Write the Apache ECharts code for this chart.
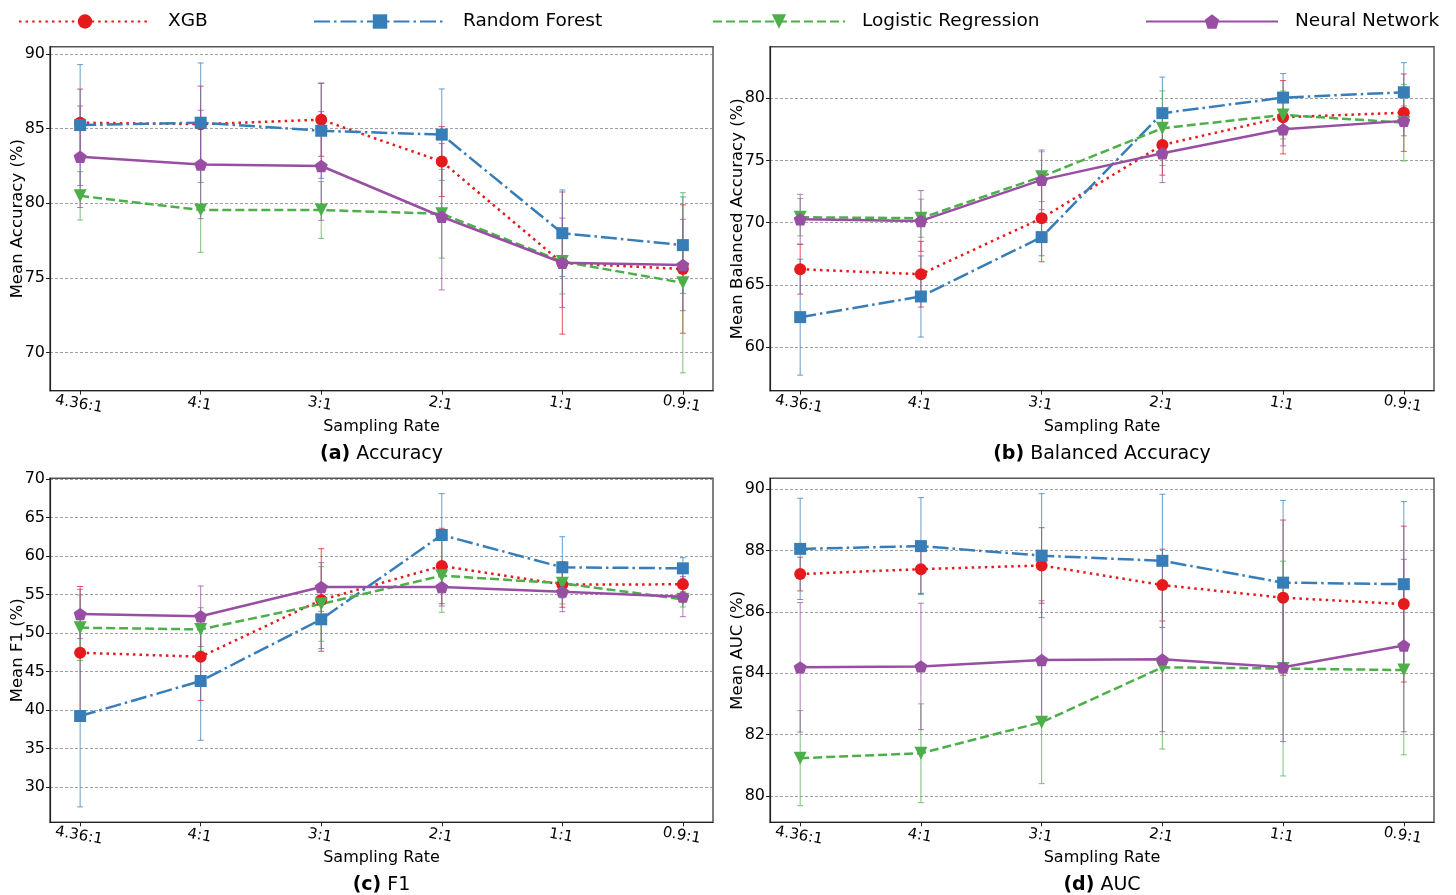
<!DOCTYPE html>
<html><head><meta charset="utf-8">
<script src="https://cdn.jsdelivr.net/npm/echarts@6/dist/echarts.min.js"></script>
<style>html,body{margin:0;padding:0;background:#fff}#c{width:1456px;height:895px}</style>
</head><body><div id="c"></div>
<script>
const categories = ['4.36:1', '4:1', '3:1', '2:1', '1:1', '0.9:1'];
const models = ['XGB', 'Random Forest', 'Logistic Regression', 'Neural Network'];

// (a) Accuracy
const accXGB = [85.4, 85.3, 85.6, 82.8, 76.0, 75.6];
const accXGBErr = [2.25, 2.55, 2.45, 2.34, 4.76, 4.3];
const accRF = [85.24, 85.4, 84.86, 84.6, 78.0, 77.2];
const accRFErr = [4.05, 4.0, 3.18, 3.06, 2.9, 3.23];
const accLR = [80.5, 79.55, 79.55, 79.3, 76.1, 74.68];
const accLRErr = [1.62, 2.83, 1.9, 2.97, 2.17, 6.03];
const accNN = [83.12, 82.6, 82.5, 79.1, 76.02, 75.87];
const accNNErr = [3.4, 3.63, 3.64, 4.9, 2.99, 3.06];

// (b) Balanced Accuracy
const balXGB = [66.26, 65.86, 70.36, 76.25, 78.47, 78.84];
const balXGBErr = [2.0, 2.64, 3.5, 2.43, 2.95, 3.11];
const balRF = [62.41, 64.07, 68.84, 78.8, 80.05, 80.48];
const balRFErr = [4.66, 3.26, 1.5, 2.9, 1.93, 2.38];
const balLR = [70.44, 70.36, 73.7, 77.59, 78.66, 78.04];
const balLRErr = [1.5, 1.53, 2.0, 3.0, 1.93, 3.08];
const balNN = [70.28, 70.14, 73.44, 75.58, 77.51, 78.18];
const balNNErr = [2.0, 2.44, 2.4, 2.36, 1.34, 1.2];

// (c) F1
const f1XGB = [47.44, 46.92, 54.29, 58.7, 56.3, 56.32];
const f1XGBErr = [8.6, 5.7, 6.66, 4.9, 2.96, 1.5];
const f1RF = [39.22, 43.77, 51.78, 62.73, 58.53, 58.4];
const f1RFErr = [11.8, 7.7, 3.8, 5.37, 3.97, 1.38];
const f1LR = [50.69, 50.47, 53.77, 57.45, 56.45, 54.38];
const f1LRErr = [4.25, 2.82, 4.84, 4.76, 2.68, 1.0];
const f1NN = [52.47, 52.17, 55.97, 55.97, 55.37, 54.72];
const f1NNErr = [3.2, 3.93, 3.16, 2.47, 2.6, 2.6];

// (d) AUC
const aucXGB = [87.23, 87.39, 87.51, 86.87, 86.46, 86.25];
const aucXGBErr = [0.55, 0.79, 1.23, 1.17, 2.53, 2.54];
const aucRF = [88.05, 88.14, 87.83, 87.66, 86.95, 86.9];
const aucRFErr = [1.65, 1.58, 2.02, 2.17, 2.68, 2.69];
const aucLR = [81.23, 81.39, 82.4, 84.19, 84.15, 84.1];
const aucLRErr = [1.55, 1.61, 2.0, 2.66, 3.5, 2.76];
const aucNN = [84.19, 84.22, 84.43, 84.45, 84.19, 84.9];
const aucNNErr = [2.11, 2.06, 1.93, 2.36, 2.42, 2.81];

// tick labels
const accTicks = [70, 75, 80, 85, 90];
const balTicks = [60, 65, 70, 75, 80];
const f1Ticks = [30, 35, 40, 45, 50, 55, 60, 65, 70];
const aucTicks = [80, 82, 84, 86, 88, 90];

const panels = [
  {tag: '(a)', title: 'Accuracy', yName: 'Mean Accuracy (%)', ticks: accTicks, step: 5, min: 67.45, max: 90.49,
   vals: [accXGB, accRF, accLR, accNN], errs: [accXGBErr, accRFErr, accLRErr, accNNErr],
   grid: {left: 50, top: 46.7, width: 663, height: 344}},
  {tag: '(b)', title: 'Balanced Accuracy', yName: 'Mean Balanced Accuracy (%)', ticks: balTicks, step: 5, min: 56.5, max: 84.14,
   vals: [balXGB, balRF, balLR, balNN], errs: [balXGBErr, balRFErr, balLRErr, balNNErr],
   grid: {left: 770, top: 46.7, width: 664, height: 344}},
  {tag: '(c)', title: 'F1', yName: 'Mean F1 (%)', ticks: f1Ticks, step: 5, min: 25.42, max: 70.09,
   vals: [f1XGB, f1RF, f1LR, f1NN], errs: [f1XGBErr, f1RFErr, f1LRErr, f1NNErr],
   grid: {left: 50, top: 478.3, width: 663, height: 344}},
  {tag: '(d)', title: 'AUC', yName: 'Mean AUC (%)', ticks: aucTicks, step: 2, min: 79.14, max: 90.35,
   vals: [aucXGB, aucRF, aucLR, aucNN], errs: [aucXGBErr, aucRFErr, aucLRErr, aucNNErr],
   grid: {left: 770, top: 478.3, width: 664, height: 344}}
];

const FONT = 'DejaVu Sans';
const pent = 'path://M0,-1 L0.951,-0.309 L0.588,0.809 L-0.588,0.809 L-0.951,-0.309 Z';
const styles = [
  {color: '#e41a1c', dash: [2.5, 4.1], symbol: 'circle', size: 12, rot: 0},
  {color: '#377eb8', dash: [16, 4, 2.5, 4], symbol: 'rect', size: 12, rot: 0},
  {color: '#4daf4a', dash: [9, 4], symbol: 'triangle', size: 13, rot: 180},
  {color: '#984ea3', dash: 'solid', symbol: pent, size: [13, 12.4], rot: 0}
];

const grids = [], xAxes = [], yAxes = [], series = [], graphics = [];
panels.forEach((p, gi) => {
  grids.push(Object.assign({show: true, borderColor: '#555', borderWidth: 1.5, containLabel: false}, p.grid));
  xAxes.push({
    type: 'value', gridIndex: gi, min: -0.25, max: 5.25, minInterval: 1, maxInterval: 1,
    name: 'Sampling Rate', nameLocation: 'middle', nameGap: 28, nameMoveOverlap: false,
    nameTextStyle: {fontFamily: FONT, fontSize: 16, color: '#000'},
    axisLine: {show: true, onZero: false, lineStyle: {color: '#222', width: 1.2}},
    axisTick: {show: true, customValues: [0, 1, 2, 3, 4, 5], length: 4, lineStyle: {color: '#222'}},
    axisLabel: {customValues: [0, 1, 2, 3, 4, 5], formatter: v => categories[Math.round(v)], rotate: -10,
      align: 'center', verticalAlign: 'top', margin: 6, fontFamily: FONT, fontSize: 15, color: '#000'},
    splitLine: {show: false}
  });
  yAxes.push({
    type: 'value', gridIndex: gi, min: p.min, max: p.max, minInterval: p.step, maxInterval: p.step,
    name: p.yName, nameLocation: 'middle', nameGap: 24, nameMoveOverlap: false,
    nameTextStyle: {fontFamily: FONT, fontSize: 16.5, color: '#000'},
    axisLine: {show: true, onZero: false, lineStyle: {color: '#222', width: 1.2}},
    axisTick: {show: true, customValues: p.ticks, length: 4, lineStyle: {color: '#222'}},
    axisLabel: {customValues: p.ticks, margin: 5, fontFamily: FONT, fontSize: 16, color: '#000'},
    splitLine: {show: true, lineStyle: {color: '#888', width: 0.8, type: [3, 2]}}
  });
  models.forEach((m, si) => {
    const st = styles[si];
    const v = p.vals[si], e = p.errs[si];
    series.push({
      type: 'custom', name: m + ' err', xAxisIndex: gi, yAxisIndex: gi, silent: true,
      data: v.map((val, i) => [i, val - e[i], val + e[i]]),
      encode: {x: 0, y: [1, 2]},
      z: 2,
      renderItem: (params, api) => {
        const x = api.value(0);
        const lo = api.coord([x, api.value(1)]);
        const hi = api.coord([x, api.value(2)]);
        const c = 3;
        const s = {stroke: st.color, lineWidth: 1, opacity: 0.75};
        return {type: 'group', children: [
          {type: 'line', shape: {x1: lo[0], y1: lo[1], x2: hi[0], y2: hi[1]}, style: s},
          {type: 'line', shape: {x1: lo[0] - c, y1: lo[1], x2: lo[0] + c, y2: lo[1]}, style: s},
          {type: 'line', shape: {x1: hi[0] - c, y1: hi[1], x2: hi[0] + c, y2: hi[1]}, style: s}
        ]};
      }
    });
    series.push({
      type: 'line', name: m, xAxisIndex: gi, yAxisIndex: gi, silent: true, z: 3,
      data: v.map((val, i) => [i, val]),
      symbol: st.symbol, symbolSize: st.size, symbolRotate: st.rot, showSymbol: true,
      itemStyle: {color: st.color, opacity: 1},
      lineStyle: {color: st.color, width: 2.5, type: st.dash, cap: 'butt'}
    });
  });
  graphics.push({
    type: 'text', x: p.grid.left + p.grid.width / 2, y: p.grid.top + p.grid.height + 63,
    style: {text: '{b|' + p.tag + '} ' + p.title, fontFamily: FONT, fontSize: 19, fill: '#000',
      align: 'center', verticalAlign: 'middle',
      rich: {b: {fontWeight: 'bold', fontFamily: FONT, fontSize: 19, fill: '#000'}}}
  });
});

const legendLeft = [18, 313, 712, 1145];
const legends = models.map((m, i) => ({
  data: [m], left: legendLeft[i], top: 12, padding: 0, itemWidth: 132, itemHeight: 18, selectedMode: false,
  textStyle: {fontFamily: FONT, fontSize: 18.5, color: '#000', padding: [0, 0, 0, 12]}
}));

const chart = echarts.init(document.getElementById('c'), null, {renderer: 'canvas'});
chart.setOption({
  animation: false, backgroundColor: '#fff',
  legend: legends, grid: grids, xAxis: xAxes, yAxis: yAxes, series: series, graphic: graphics
});
</script></body></html>
